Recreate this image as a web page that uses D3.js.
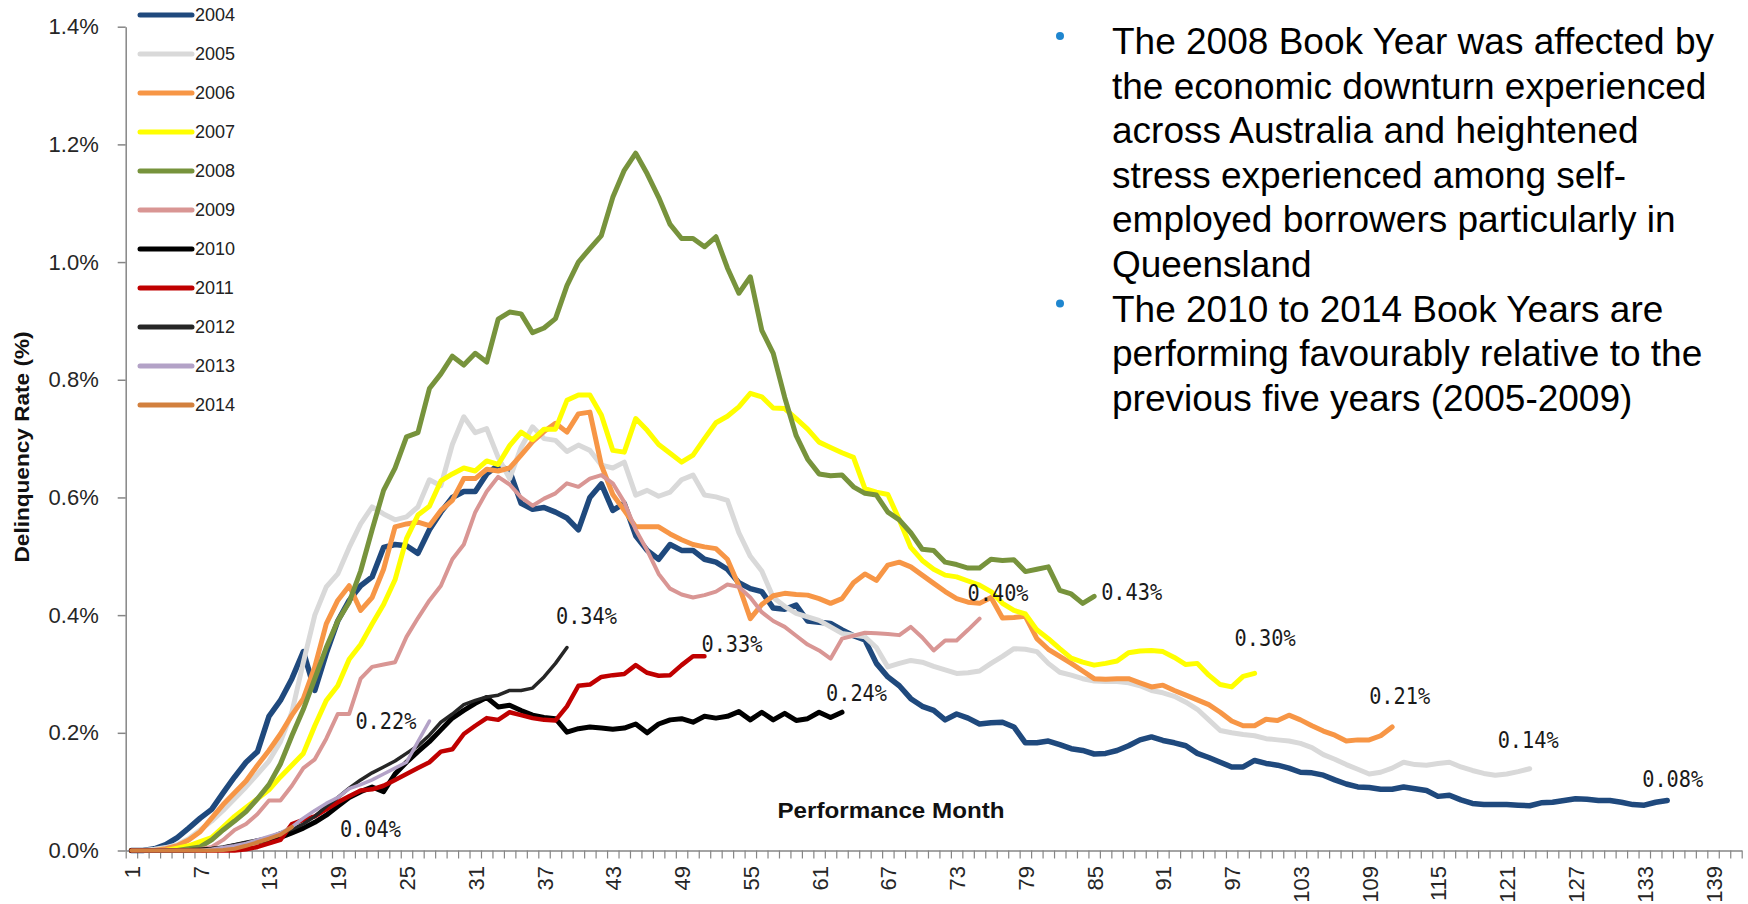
<!DOCTYPE html>
<html><head><meta charset="utf-8">
<script src="https://cdn.jsdelivr.net/npm/d3@7"></script>
<style>body{margin:0;background:#fff}svg{display:block}</style>
</head><body>
<svg id="chart" width="1748" height="904"></svg>
<script>
// ---------- data ----------
const years = ["2004","2005","2006","2007","2008","2009","2010","2011","2012","2013","2014"];
const months = d3.range(1, 142);
const xTickMonths = [1,7,13,19,25,31,37,43,49,55,61,67,73,79,85,91,97,103,109,115,121,127,133,139];
const yTicks = [0,0.2,0.4,0.6,0.8,1.0,1.2,1.4];

const s2004 = [0.000,0.000,0.003,0.010,0.022,0.038,0.055,0.070,0.098,0.125,
0.150,0.168,0.228,0.255,0.292,0.338,0.272,0.335,0.390,0.425,
0.450,0.465,0.515,0.520,0.518,0.505,0.545,0.575,0.600,0.610,
0.610,0.640,0.655,0.645,0.590,0.580,0.583,0.575,0.565,0.545,
0.600,0.623,0.578,0.590,0.535,0.510,0.495,0.520,0.510,0.510,
0.495,0.490,0.478,0.455,0.445,0.440,0.412,0.410,0.417,0.390,
0.388,0.386,0.375,0.365,0.358,0.318,0.295,0.280,0.258,0.245,
0.238,0.222,0.232,0.225,0.215,0.217,0.218,0.210,0.183,0.183,
0.186,0.180,0.173,0.170,0.164,0.165,0.170,0.178,0.188,0.193,
0.187,0.183,0.178,0.165,0.158,0.150,0.142,0.142,0.153,0.148,
0.145,0.140,0.133,0.132,0.128,0.120,0.113,0.108,0.107,0.104,
0.104,0.108,0.105,0.102,0.092,0.094,0.086,0.080,0.078,0.078,
0.078,0.077,0.076,0.081,0.082,0.085,0.088,0.087,0.085,0.085,
0.082,0.078,0.077,0.082,0.085];
const s2005 = [0.000,0.000,0.002,0.005,0.010,0.020,0.035,0.050,0.068,0.088,
0.108,0.130,0.152,0.185,0.235,0.320,0.400,0.448,0.470,0.515,
0.555,0.584,0.572,0.562,0.567,0.584,0.630,0.620,0.690,0.737,
0.710,0.717,0.668,0.632,0.685,0.720,0.700,0.697,0.678,0.689,
0.680,0.655,0.650,0.660,0.604,0.612,0.602,0.609,0.630,0.638,
0.604,0.601,0.595,0.540,0.500,0.475,0.430,0.415,0.403,0.397,
0.391,0.380,0.369,0.366,0.363,0.345,0.312,0.318,0.323,0.320,
0.313,0.307,0.301,0.302,0.305,0.318,0.330,0.343,0.342,0.338,
0.318,0.303,0.298,0.292,0.288,0.287,0.287,0.285,0.280,0.272,
0.268,0.262,0.252,0.240,0.222,0.204,0.200,0.197,0.195,0.190,
0.188,0.186,0.182,0.175,0.163,0.155,0.146,0.138,0.130,0.133,
0.140,0.150,0.146,0.145,0.148,0.150,0.142,0.136,0.131,0.128,
0.130,0.134,0.139];
const s2006 = [0.000,0.000,0.000,0.003,0.008,0.018,0.032,0.055,0.078,0.098,
0.118,0.145,0.170,0.198,0.230,0.258,0.312,0.385,0.425,0.450,
0.408,0.430,0.478,0.550,0.555,0.558,0.552,0.578,0.595,0.632,
0.632,0.648,0.645,0.650,0.672,0.695,0.712,0.726,0.711,0.742,
0.745,0.655,0.605,0.578,0.550,0.550,0.550,0.538,0.528,0.520,
0.516,0.513,0.495,0.450,0.394,0.418,0.433,0.437,0.435,0.434,
0.428,0.420,0.428,0.455,0.470,0.459,0.485,0.490,0.482,0.468,
0.454,0.440,0.428,0.422,0.420,0.430,0.395,0.396,0.398,0.360,
0.342,0.330,0.318,0.305,0.292,0.291,0.292,0.292,0.285,0.278,
0.281,0.272,0.264,0.256,0.248,0.235,0.220,0.212,0.212,0.223,
0.221,0.230,0.222,0.212,0.203,0.196,0.186,0.188,0.188,0.195,
0.210];
const s2007 = [0.000,0.000,0.000,0.000,0.004,0.008,0.015,0.022,0.040,0.058,
0.073,0.088,0.103,0.125,0.145,0.165,0.212,0.255,0.280,0.325,
0.350,0.385,0.418,0.460,0.530,0.570,0.585,0.628,0.640,0.650,
0.645,0.662,0.656,0.688,0.711,0.698,0.716,0.716,0.765,0.774,
0.774,0.740,0.680,0.677,0.734,0.714,0.690,0.675,0.660,0.672,
0.700,0.727,0.738,0.754,0.777,0.771,0.752,0.751,0.734,0.716,
0.694,0.685,0.676,0.668,0.615,0.609,0.605,0.562,0.515,0.493,
0.478,0.468,0.465,0.458,0.451,0.440,0.420,0.408,0.402,0.375,
0.360,0.343,0.327,0.320,0.315,0.318,0.322,0.336,0.339,0.340,
0.338,0.328,0.316,0.318,0.298,0.282,0.278,0.296,0.301];
const s2008 = [0.000,0.000,0.000,0.000,0.000,0.003,0.006,0.018,0.035,0.050,
0.066,0.088,0.112,0.147,0.195,0.240,0.292,0.345,0.390,0.422,
0.475,0.545,0.612,0.650,0.703,0.710,0.785,0.810,0.840,0.825,
0.845,0.830,0.903,0.915,0.912,0.880,0.888,0.904,0.960,1.000,
1.023,1.045,1.110,1.156,1.185,1.150,1.110,1.064,1.040,1.040,
1.026,1.043,0.990,0.947,0.975,0.884,0.845,0.770,0.705,0.665,
0.640,0.637,0.638,0.618,0.607,0.604,0.575,0.562,0.540,0.512,
0.510,0.490,0.486,0.480,0.480,0.495,0.493,0.494,0.474,0.478,
0.482,0.442,0.436,0.420,0.432];
const s2009 = [0.000,0.000,0.000,0.000,0.000,0.000,0.002,0.006,0.018,0.035,
0.045,0.062,0.085,0.085,0.110,0.140,0.155,0.190,0.232,0.232,
0.292,0.312,0.316,0.320,0.363,0.395,0.425,0.450,0.495,0.520,
0.575,0.610,0.635,0.622,0.600,0.586,0.598,0.607,0.624,0.618,
0.632,0.638,0.624,0.592,0.545,0.510,0.470,0.445,0.435,0.430,
0.434,0.440,0.452,0.448,0.430,0.405,0.390,0.380,0.365,0.350,
0.340,0.326,0.360,0.365,0.370,0.369,0.368,0.366,0.380,0.362,
0.340,0.357,0.357,0.375,0.394];
const s2010 = [0.000,0.000,0.000,0.000,0.000,0.000,0.001,0.002,0.004,0.008,
0.012,0.015,0.018,0.022,0.030,0.038,0.048,0.060,0.075,0.090,
0.100,0.108,0.100,0.130,0.150,0.168,0.185,0.205,0.225,0.238,
0.250,0.260,0.244,0.247,0.238,0.230,0.226,0.224,0.201,0.207,
0.210,0.208,0.206,0.208,0.215,0.200,0.215,0.222,0.224,0.218,
0.228,0.225,0.228,0.236,0.222,0.235,0.222,0.233,0.221,0.224,
0.235,0.226,0.235];
const s2011 = [0.000,0.000,0.000,0.000,0.000,0.000,0.000,0.000,0.000,0.000,
0.002,0.006,0.012,0.018,0.045,0.052,0.058,0.070,0.082,0.092,
0.102,0.104,0.110,0.120,0.130,0.140,0.150,0.168,0.172,0.198,
0.212,0.225,0.222,0.235,0.230,0.225,0.222,0.221,0.245,0.280,
0.282,0.295,0.298,0.300,0.315,0.302,0.297,0.298,0.315,0.330,
0.330];
const s2012 = [0.000,0.000,0.000,0.000,0.000,0.000,0.001,0.003,0.006,0.010,
0.014,0.018,0.022,0.030,0.036,0.045,0.058,0.075,0.090,0.106,
0.120,0.132,0.142,0.152,0.165,0.178,0.196,0.218,0.232,0.248,
0.255,0.261,0.264,0.272,0.272,0.276,0.295,0.318,0.345];
const s2013 = [0.000,0.000,0.000,0.000,0.000,0.000,0.000,0.002,0.005,0.008,
0.012,0.018,0.024,0.030,0.040,0.055,0.068,0.080,0.090,0.105,
0.112,0.120,0.130,0.140,0.150,0.185,0.220];
const s2014 = [0.000,0.000,0.000,0.000,0.000,0.000,0.000,0.000,0.001,0.003,
0.008,0.014,0.020,0.027,0.040];

const endLabels = ["0.08%","0.14%","0.21%","0.30%","0.43%","0.40%","0.24%","0.33%","0.34%","0.22%","0.04%"];

const bulletLines = [
  ["The 2008 Book Year was affected by","the economic downturn experienced","across Australia and heightened","stress experienced among self-","employed borrowers particularly in","Queensland"],
  ["The 2010 to 2014 Book Years are","performing favourably relative to the","previous five years (2005-2009)"]
];

// ---------- styles (kept apart from data) ----------
const colors = ["#1F497D","#D9D9D9","#F79646","#FFFF00","#77933C","#D99694","#000000","#C00000","#262626","#B3A2C7","#D2803E"];
const widths = [5.5,5,5,5,5,4,5,4.5,3.5,3.5,4];
const labelDx = [-25,-32,-23,-20,7,-12,-16,-3,-11,-74,48];
const labelDy = [-21,-29,-31,-35,-4,-26,-19,-12,-31,0,2];

const series = [s2004,s2005,s2006,s2007,s2008,s2009,s2010,s2011,s2012,s2013,s2014];

// ---------- scales ----------
const svg = d3.select("#chart");
const x = d3.scaleBand().domain(months).range([125.7, 1741.7]).paddingInner(0).paddingOuter(0);
const xc = m => x(m) + x.bandwidth() / 2;
const xb = d3.scaleLinear().domain([0, 141]).range([125.7, 1741.7]);
const y = d3.scaleLinear().domain([0, 1.4]).range([850.5, 26.7]);
const axisCol = "#868686";
const txtCol = "#262626";

// y axis
const ya = svg.append("g").attr("transform", "translate(125.7,0)")
  .call(d3.axisLeft(y).tickValues(yTicks).tickFormat(d => d.toFixed(1) + "%").tickSize(8).tickSizeOuter(0));
ya.select(".domain").attr("stroke", axisCol).attr("stroke-width", 1.5);
ya.selectAll(".tick line").attr("stroke", axisCol).attr("stroke-width", 1.5);
ya.selectAll(".tick text").attr("x", -27).attr("fill", txtCol)
  .style("font-family", "'Liberation Sans', Arial, sans-serif").style("font-size", "22px");

// x axis
const xa = svg.append("g").attr("transform", "translate(0,850.5)")
  .call(d3.axisBottom(xb).tickValues(d3.range(0, 142)).tickFormat("").tickSize(8).tickSizeOuter(0));
xa.select(".domain").attr("stroke", axisCol).attr("stroke-width", 1.5);
xa.selectAll(".tick line").attr("stroke", axisCol).attr("stroke-width", 1.2);

svg.append("g").selectAll("text").data(xTickMonths).join("text")
  .attr("transform", d => `translate(${xc(d) + 1},866) rotate(-90)`)
  .attr("text-anchor", "end").attr("dominant-baseline", "central")
  .attr("fill", txtCol)
  .style("font-family", "'Liberation Sans', Arial, sans-serif").style("font-size", "22px")
  .text(d => d);

// axis titles
svg.append("text").attr("transform", "translate(22,447) rotate(-90)")
  .attr("text-anchor", "middle").attr("dominant-baseline", "central")
  .attr("textLength", 231).attr("lengthAdjust", "spacingAndGlyphs")
  .style("font-family", "'Liberation Sans', Arial, sans-serif").style("font-size", "20px").style("font-weight", "bold")
  .attr("fill", "#111").text("Delinquency Rate (%)");
svg.append("text").attr("x", 891).attr("y", 818)
  .attr("text-anchor", "middle")
  .attr("textLength", 227).attr("lengthAdjust", "spacingAndGlyphs")
  .style("font-family", "'Liberation Sans', Arial, sans-serif").style("font-size", "22px").style("font-weight", "bold")
  .attr("fill", "#111").text("Performance Month");

// lines
const line = d3.line().x((d, i) => xc(months[i])).y(d => y(d));
svg.append("g").selectAll("path").data(series).join("path")
  .attr("d", d => line(d))
  .attr("fill", "none")
  .attr("stroke", (d, i) => colors[i])
  .attr("stroke-width", (d, i) => widths[i])
  .attr("stroke-linejoin", "round").attr("stroke-linecap", "round");

// end labels
svg.append("g").selectAll("text").data(series).join("text")
  .attr("x", (d, i) => xc(months[d.length - 1]) + labelDx[i])
  .attr("y", (d, i) => y(d[d.length - 1]) + labelDy[i])
  .attr("dominant-baseline", "central")
  .attr("textLength", 61).attr("lengthAdjust", "spacingAndGlyphs")
  .attr("fill", "#1a1a1a")
  .style("font-family", "'DejaVu Sans Mono', monospace").style("font-size", "23px")
  .text((d, i) => endLabels[i]);

// legend
const lg = svg.append("g").selectAll("g").data(years).join("g")
  .attr("transform", (d, i) => `translate(140,${15 + 39 * i})`);
lg.append("line").attr("x1", 0).attr("x2", 52).attr("y1", 0).attr("y2", 0)
  .attr("stroke", (d, i) => colors[i]).attr("stroke-width", 5).attr("stroke-linecap", "round");
lg.append("text").attr("x", 55).attr("y", 0).attr("dominant-baseline", "central")
  .attr("fill", "#222")
  .style("font-family", "'Liberation Sans', Arial, sans-serif").style("font-size", "18px")
  .text(d => d);

// bullet text
const tg = svg.append("g");
let row = 0;
bulletLines.forEach((lines, bi) => {
  tg.append("circle").attr("cx", 1060).attr("cy", 54 + row * 44.6 - 18).attr("r", 4).attr("fill", "#1F86CF");
  lines.forEach(t => {
    tg.append("text").attr("x", 1112).attr("y", 54 + row * 44.6)
      .attr("fill", "#000")
      .style("font-family", "'Liberation Sans', Arial, sans-serif").style("font-size", "37px")
      .text(t);
    row++;
  });
});
</script>
</body></html>
